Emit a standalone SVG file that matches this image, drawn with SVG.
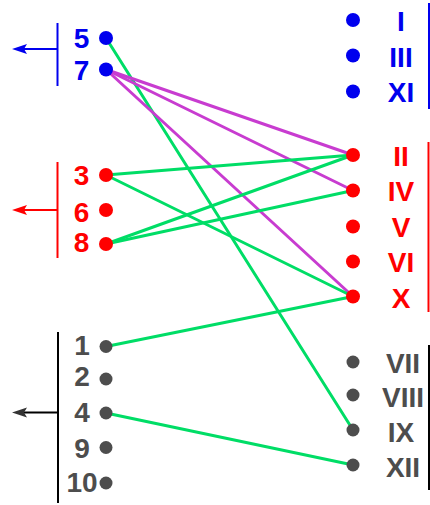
<svg xmlns="http://www.w3.org/2000/svg" width="430" height="505" viewBox="0 0 430 505">
  <style>
    text { font-family: "Liberation Sans", Arial, sans-serif; font-weight: bold; font-size: 28px; text-anchor: middle; }
    .blue { fill: #0000ee; }
    .red { fill: #ff0000; }
    .gray { fill: #4d4d4d; }
    .link { fill: none; stroke-width: 3; stroke-linecap: round; }
    .g { stroke: #00dd66; }
    .p { stroke: #c83cd0; }
    .bar { fill: none; stroke-width: 2; }
  </style>

  <!-- left-hand brackets with arrows -->
  <g id="bracket-left-blue">
    <line class="bar" x1="57.5" y1="23" x2="57.5" y2="86" stroke="#0000ee"/>
    <line class="bar" x1="57.5" y1="49" x2="24" y2="49" stroke="#0000ee"/>
    <path d="M12,49 L27,44 L24,49 L27,54 Z" fill="#0000ee"/>
  </g>
  <g id="bracket-left-red">
    <line class="bar" x1="57.5" y1="162" x2="57.5" y2="258" stroke="#ff0000"/>
    <line class="bar" x1="57.5" y1="210" x2="24" y2="210" stroke="#ff0000"/>
    <path d="M12,210 L27,205 L24,210 L27,215 Z" fill="#ff0000"/>
  </g>
  <g id="bracket-left-black">
    <line class="bar" x1="58" y1="332" x2="58" y2="503" stroke="#000000"/>
    <line class="bar" x1="58" y1="412.5" x2="24" y2="412.5" stroke="#000000"/>
    <path d="M12,412.5 L27,407.5 L24,412.5 L27,417.5 Z" fill="#333333"/>
  </g>

  <!-- right-hand brackets -->
  <g id="bracket-right-blue"><line class="bar" x1="429" y1="3" x2="429" y2="109" stroke="#0000ee" stroke-width="1.5"/></g>
  <g id="bracket-right-red"><line class="bar" x1="428.5" y1="142" x2="428.5" y2="312" stroke="#ff0000" stroke-width="1.5"/></g>
  <g id="bracket-right-black"><line class="bar" x1="429" y1="345" x2="429" y2="490" stroke="#000000" stroke-width="1.5"/></g>

  <!-- connectors -->
  <g id="connectors">
    <line class="link g" x1="106" y1="38" x2="353" y2="430"/>
    <line class="link p" x1="106" y1="69.5" x2="353" y2="155"/>
    <line class="link p" x1="106" y1="69.5" x2="353" y2="190.5"/>
    <line class="link p" x1="106" y1="69.5" x2="353" y2="296.5"/>
    <line class="link g" x1="106" y1="175" x2="353" y2="155"/>
    <line class="link g" x1="106" y1="175" x2="353" y2="296.5"/>
    <line class="link g" x1="106" y1="244" x2="353" y2="155"/>
    <line class="link g" x1="106" y1="244" x2="353" y2="190.5"/>
    <line class="link g" x1="106" y1="346.5" x2="353" y2="296.5"/>
    <line class="link g" x1="106" y1="413" x2="353" y2="465"/>
  </g>

  <!-- left nodes -->
  <g id="n5" class="blue"><circle cx="106" cy="38" r="7"/><text x="81.5" y="47.5">5</text></g>
  <g id="n7" class="blue"><circle cx="106" cy="69.5" r="7"/><text x="81.5" y="79.5">7</text></g>
  <g id="n3" class="red"><circle cx="106" cy="175" r="7"/><text x="81.5" y="185">3</text></g>
  <g id="n6" class="red"><circle cx="106" cy="210" r="7"/><text x="81.5" y="221.5">6</text></g>
  <g id="n8" class="red"><circle cx="106" cy="244" r="7"/><text x="81.5" y="252">8</text></g>
  <g id="n1" class="gray"><circle cx="106" cy="346.5" r="6.5"/><text x="82" y="354.5">1</text></g>
  <g id="n2" class="gray"><circle cx="106" cy="379" r="6.5"/><text x="82" y="385.5">2</text></g>
  <g id="n4" class="gray"><circle cx="106" cy="413" r="6.5"/><text x="82" y="421.5">4</text></g>
  <g id="n9" class="gray"><circle cx="106" cy="447.5" r="6.5"/><text x="82" y="458">9</text></g>
  <g id="n10" class="gray"><circle cx="106" cy="483" r="6.5"/><text x="82" y="492">10</text></g>

  <!-- right nodes -->
  <g id="rI" class="blue"><circle cx="353" cy="20" r="7"/><text x="401" y="30.5">I</text></g>
  <g id="rIII" class="blue"><circle cx="353" cy="55.5" r="7"/><text x="401" y="66.5">III</text></g>
  <g id="rXI" class="blue"><circle cx="353" cy="91.5" r="7"/><text x="401" y="102">XI</text></g>
  <g id="rII" class="red"><circle cx="353" cy="155" r="7"/><text x="401" y="166">II</text></g>
  <g id="rIV" class="red"><circle cx="353" cy="190.5" r="7"/><text x="401" y="201">IV</text></g>
  <g id="rV" class="red"><circle cx="353" cy="226.5" r="7"/><text x="401" y="236.5">V</text></g>
  <g id="rVI" class="red"><circle cx="353" cy="261.5" r="7"/><text x="401" y="271.5">VI</text></g>
  <g id="rX" class="red"><circle cx="353" cy="296.5" r="7"/><text x="401" y="307.5">X</text></g>
  <g id="rVII" class="gray"><circle cx="353" cy="362" r="6.5"/><text x="403" y="373">VII</text></g>
  <g id="rVIII" class="gray"><circle cx="353" cy="395" r="6.5"/><text x="403" y="407">VIII</text></g>
  <g id="rIX" class="gray"><circle cx="353" cy="430" r="6.5"/><text x="401" y="441.5">IX</text></g>
  <g id="rXII" class="gray"><circle cx="353" cy="465" r="6.5"/><text x="403" y="476.5">XII</text></g>
</svg>
